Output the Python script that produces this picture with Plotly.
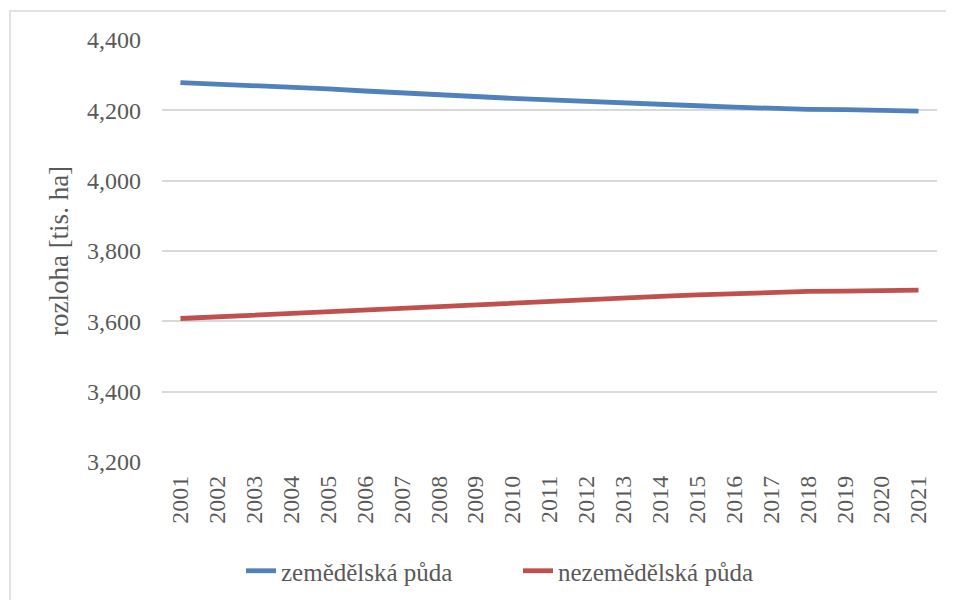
import plotly.graph_objects as go

years = [str(y) for y in range(2001, 2022)]
zemedelska = [4279, 4275, 4271, 4266, 4261, 4255, 4249, 4245, 4239, 4234, 4230,
              4225, 4221, 4217, 4213, 4209, 4205, 4203, 4202, 4200, 4198]
nezemedelska = [3608, 3613, 3617, 3622, 3627, 3633, 3639, 3643, 3649, 3654, 3658,
                3663, 3667, 3671, 3675, 3679, 3683, 3685, 3686, 3688, 3689]
y_ticks = [3200, 3400, 3600, 3800, 4000, 4200, 4400]

FONT = "Liberation Serif"
GRAY = "#595959"

fig = go.Figure()
fig.add_trace(go.Scatter(x=years, y=zemedelska, mode="lines", name="zemědělská půda",
                         line=dict(color="#4F81BD", width=4.8)))
fig.add_trace(go.Scatter(x=years, y=nezemedelska, mode="lines", name="nezemědělská půda",
                         line=dict(color="#C0504D", width=4.8)))

OFF = 8  # page body margin
W, H = 954, 600
L, R, T, B = 162 - OFF, 17 + OFF, 40 - OFF, 138 + OFF
pw, ph = W - L - R, H - T - B

def px_x(p):  # page pixel -> paper
    return (p - OFF - L) / pw

def px_y(p):
    return (H - B - (p - OFF)) / ph

fig.add_shape(type="rect", xref="paper", yref="paper",
              x0=px_x(10), x1=px_x(980), y0=px_y(11), y1=px_y(640),
              line=dict(color="#D9D9D9", width=1.5), fillcolor="rgba(0,0,0,0)", layer="below")

fig.update_layout(
    width=W, height=H,
    margin=dict(l=L, r=R, t=T, b=B, autoexpand=False),
    paper_bgcolor="white", plot_bgcolor="white",
    font=dict(family=FONT, size=25, color=GRAY),
    showlegend=True,
    legend=dict(orientation="h", x=px_x(241), xanchor="left", y=px_y(571), yanchor="middle",
                font=dict(family=FONT, size=25, color=GRAY),
                entrywidth=232, entrywidthmode="pixels",
                bgcolor="rgba(0,0,0,0)"),
    xaxis=dict(type="category", range=[-0.5, 20.5], tickangle=-90, showgrid=False,
               showline=False, ticks="", automargin=False, ticklabelstandoff=8,
               tickfont=dict(family=FONT, size=24, color=GRAY)),
    yaxis=dict(range=[3200, 4400], tickvals=y_ticks, tickformat=",", showgrid=True,
               gridcolor="#D9D9D9", gridwidth=1.5, zeroline=False, showline=False, ticks="",
               ticklabelstandoff=20, automargin=False,
               title=dict(text="rozloha [tis. ha]", standoff=10,
                          font=dict(family=FONT, size=27, color=GRAY)),
               tickfont=dict(family=FONT, size=24, color=GRAY)),
)

fig.write_html("out.html")
